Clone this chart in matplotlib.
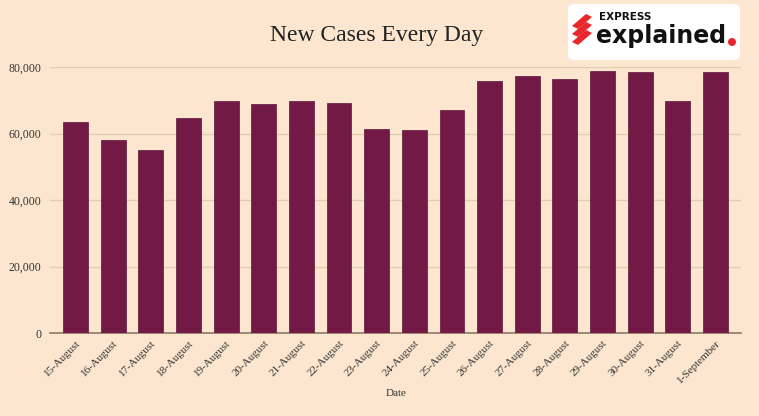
import matplotlib.pyplot as plt
from matplotlib.patches import FancyBboxPatch, Ellipse, Polygon

# Data
dates = ['15-August', '16-August', '17-August', '18-August', '19-August', '20-August',
         '21-August', '22-August', '23-August', '24-August', '25-August', '26-August',
         '27-August', '28-August', '29-August', '30-August', '31-August', '1-September']
new_cases = [63490, 57981, 55079, 64531, 69652, 68900, 69878, 69239, 61408,
             60975, 67151, 75760, 77266, 76472, 78761, 78512, 69921, 78357]
y_ticks = [0, 20000, 40000, 60000, 80000]

bg = '#fce6cf'
bar_color = '#721a45'
plt.rcParams['font.family'] = ['Liberation Serif', 'DejaVu Serif']

fig = plt.figure(figsize=(7.59, 4.16), dpi=100, facecolor=bg)
ax = fig.add_axes([50 / 759, 1 - 333 / 416, 691 / 759, 266 / 416])
ax.set_facecolor(bg)

x = range(len(dates))
ax.bar(x, new_cases, width=0.66, color=bar_color, edgecolor='#5e1538', linewidth=0.5, zorder=3)

ax.set_xlim(-0.68, len(dates) - 1 + 0.68)
ax.set_ylim(0, 80000)
ax.set_yticks(y_ticks)
ax.set_yticklabels([f'{v:,}' for v in y_ticks], fontsize=8.5, color='#333333')
ax.set_xticks(list(x))
ax.set_xticklabels(dates, rotation=45, ha='right', rotation_mode='anchor',
                   fontsize=8, color='#333333')
ax.tick_params(axis='y', length=0, pad=6)
ax.tick_params(axis='x', length=0, pad=4)

ax.grid(axis='y', color='#e2cdb4', linewidth=1, zorder=0)
ax.set_axisbelow(True)
for s in ['top', 'right', 'left']:
    ax.spines[s].set_visible(False)
ax.spines['bottom'].set_color('#8a7a6a')
ax.spines['bottom'].set_linewidth(1.2)

fig.text(396 / 759, 1 - 393 / 416, 'Date', ha='center', va='center',
         fontsize=8, color='#333333')
fig.text(377 / 759, 1 - 35 / 416, 'New Cases Every Day', ha='center', va='center',
         fontsize=17, color='#222222')

# Logo box
fig.patches.append(FancyBboxPatch((568 / 759, 1 - 60 / 416), 172 / 759, 56 / 416,
                                  boxstyle='round,pad=0,rounding_size=0.01',
                                  transform=fig.transFigure, facecolor='white',
                                  edgecolor='none'))
for i in range(3):
    y0 = 1 - (20 + i * 8) / 416
    fig.patches.append(Polygon([(572 / 759, y0 - 6 / 416), (586 / 759, y0 + 6 / 416),
                                (592 / 759, y0 + 3 / 416), (578 / 759, y0 - 9 / 416)],
                               closed=True, transform=fig.transFigure,
                               facecolor='#e8262b', edgecolor='none'))
fig.text(599 / 759, 1 - 17 / 416, 'EXPRESS', fontsize=7.5, fontweight='bold',
         family='DejaVu Sans', ha='left', va='center', color='#111111')
fig.text(596 / 759, 1 - 36 / 416, 'explained', fontsize=17, fontweight='bold',
         family='DejaVu Sans', ha='left', va='center', color='#111111')
fig.patches.append(Ellipse((732 / 759, 1 - 42 / 416), 8 / 759, 8 / 416,
                           transform=fig.transFigure, facecolor='#e8262b',
                           edgecolor='none'))

fig.savefig('out.png', dpi=100, facecolor=bg)
